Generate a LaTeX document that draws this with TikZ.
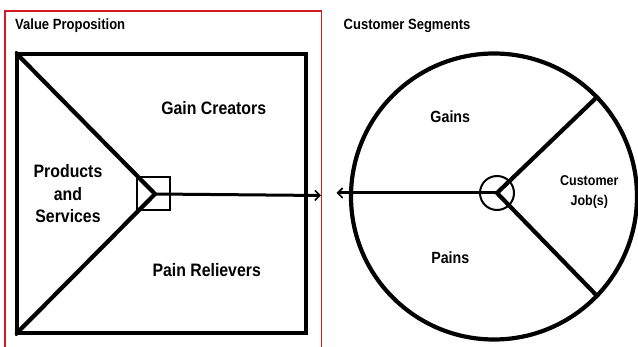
\documentclass[tikz,border=0pt]{standalone}
\usepackage{fontspec}
\setmainfont{Liberation Sans}[FakeStretch=0.88, BoldFont={Liberation Sans Bold}]
\usetikzlibrary{arrows.meta}
\definecolor{frame}{RGB}{215,25,35}
\tikzset{
  px/.style={x=1pt,y=-1pt},
  heavy/.style={draw=black,line width=4.2pt},
  thin box/.style={draw=black,line width=2pt},
  link/.style={draw=black,line width=3pt,-{Straight Barb[length=5pt,width=10pt,line width=1.6pt]}},
  title/.style={font=\bfseries\fontsize{14.8}{17}\selectfont,inner sep=0pt,anchor=base west},
  big/.style={font=\bfseries\fontsize{18}{22.5}\selectfont,inner sep=0pt,align=center},
  mid/.style={font=\bfseries\fontsize{16.2}{19}\selectfont,inner sep=0pt,align=center},
  small/.style={font=\bfseries\fontsize{14.2}{20}\selectfont,inner sep=0pt,align=center},
}
\begin{document}
\begin{tikzpicture}[px]
  \clip (0,0) rectangle (638,347);
  \fill[white] (0,0) rectangle (638,347);

  % outer frame around the value proposition
  \draw[frame,line width=1.6pt] (5,360) -- (5,11) -- (321.5,11) -- (321.5,360);

  % value proposition square and its partition
  \node[heavy,rectangle,minimum width=289pt,minimum height=279pt,inner sep=0pt] (vp) at (161.5,193.5) {};
  \coordinate (apex) at (155,194);
  \begin{scope}
    \clip (vp.north west) rectangle (vp.south east);
    \draw[heavy] (vp.north west) -- (apex) -- (vp.south west);
  \end{scope}
  \node[thin box,rectangle,minimum size=33pt,inner sep=0pt] (sq) at (153.5,193.5) {};

  % customer profile circle and its partition
  \node[heavy,circle,minimum size=286pt,inner sep=0pt] (cs) at (494,196.5) {};
  \coordinate (hub) at (497,193);
  \node[thin box,circle,minimum size=34pt,inner sep=0pt] (hc) at (hub) {};
  \draw[heavy] (cs.44) -- (hub) -- (cs.-44);

  % fit arrows
  \coordinate (vptip) at (321,195.5);
  \coordinate (cstip) at (336.5,193);
  \draw[link] (apex) -- (vptip);
  \draw[link] (hub) -- (cstip);

  % titles
  \node[title] (tvp) at (15,29.3) {Value Proposition};
  \node[title] (tcs) at (343.5,29.3) {Customer Segments};

  % value proposition labels
  \node[big,anchor=base] (gc) at (213.7,115) {Gain Creators};
  \node[big,anchor=base] (pr) at (206.7,276.7) {Pain Relievers};
  \node[big,anchor=center] (ps) at (68,194) {Products\\and\\Services};

  % customer profile labels
  \node[mid,anchor=base] (ga) at (450.3,122.3) {Gains};
  \node[mid,anchor=base] (pa) at (450.3,264) {Pains};
  \node[small,anchor=center] (cj) at (589.3,192) {Customer\\Job(s)};
\end{tikzpicture}
\end{document}
